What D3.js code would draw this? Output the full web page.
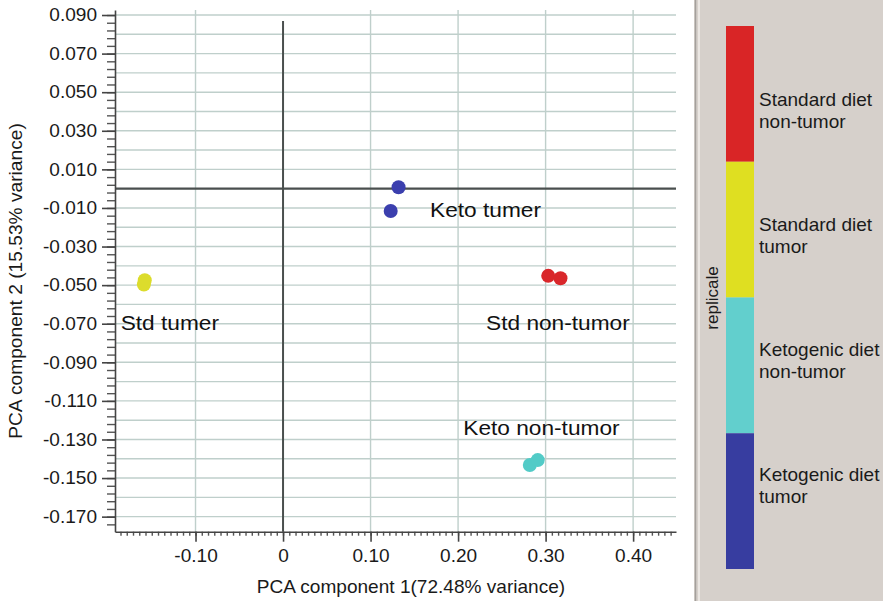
<!DOCTYPE html>
<html>
<head>
<meta charset="utf-8">
<script src="https://cdn.jsdelivr.net/npm/d3@7"></script>
<style>
  body { margin: 0; background: #fff; }
  svg { display: block; font-family: "Liberation Sans", Arial, Helvetica, sans-serif; }
</style>
</head>
<body>
<svg id="chart" width="883" height="601"></svg>
<script>
// PCA scores per group, [component 1, component 2]
const ketoTumor = [[0.132, 0.0007], [0.123, -0.0116]];
const stdNonTumor = [[0.303, -0.0452], [0.317, -0.0464]];
const stdTumor = [[-0.158, -0.0475], [-0.159, -0.0497]];
const ketoNonTumor = [[0.282, -0.1432], [0.291, -0.1407]];

const groups = [ketoTumor, stdNonTumor, stdTumor, ketoNonTumor];
const groupColors = ["#3b3fae", "#d9272b", "#dcdc2c", "#52cbc7"];
const groupNames = ["Keto tumer", "Std non-tumor", "Std tumer", "Keto non-tumor"];
// where each annotation starts, in data units
const groupNameAt = [[0.168, -0.0145], [0.232, -0.0735], [-0.1855, -0.0735], [0.206, -0.1279]];

const xTicks = [-0.10, 0, 0.10, 0.20, 0.30, 0.40];
const xTickLabels = ["-0.10", "0", "0.10", "0.20", "0.30", "0.40"];
const yTicks = [0.09, 0.07, 0.05, 0.03, 0.01, -0.01, -0.03, -0.05, -0.07, -0.09, -0.11, -0.13, -0.15, -0.17];
const yTickLabels = ["0.090", "0.070", "0.050", "0.030", "0.010", "-0.010", "-0.030", "-0.050",
  "-0.070", "-0.090", "-0.110", "-0.130", "-0.150", "-0.170"];
const xGrid = [-0.10, 0.10, 0.20, 0.30, 0.40];
const yGrid = d3.range(-17, 10).filter(i => i !== 0).map(i => i / 100);

const legendNames = [["Standard diet", "non-tumor"], ["Standard diet", "tumor"],
  ["Ketogenic diet", "non-tumor"], ["Ketogenic diet", "tumor"]];
const legendColors = ["#d92526", "#dfdf21", "#62cfcd", "#373da0"];

const svg = d3.select("#chart");
const sx = 1.06; // the source art is a little wide

const x = d3.scaleLinear().domain([-0.192, 0.449]).range([115, 676]);
const y = d3.scaleLinear().domain([0.0926, -0.1778]).range([10, 531.7]);

// grid
svg.append("g").selectAll("line").data(yGrid).join("line")
  .attr("x1", x.range()[0]).attr("x2", x.range()[1])
  .attr("y1", d => y(d)).attr("y2", d => y(d))
  .attr("stroke", "#bfcfcb").attr("stroke-width", 1.4);
svg.append("g").selectAll("line").data(xGrid).join("line")
  .attr("x1", d => x(d)).attr("x2", d => x(d))
  .attr("y1", y.range()[0]).attr("y2", y.range()[1])
  .attr("stroke", "#bfcfcb").attr("stroke-width", 1.4);

// zero lines
svg.append("line")
  .attr("x1", x.range()[0]).attr("x2", x.range()[1])
  .attr("y1", y(0)).attr("y2", y(0))
  .attr("stroke", "#4a4f4e").attr("stroke-width", 2.2);
svg.append("line")
  .attr("x1", x(0)).attr("x2", x(0))
  .attr("y1", y.range()[0] + 11).attr("y2", y.range()[1])
  .attr("stroke", "#4a4f4e").attr("stroke-width", 2);

// minor ticks
const yMinor = d3.range(0, 68).map(i => 0.09 - i * 0.004).filter(v => v > -0.1778);
svg.append("g").attr("transform", `translate(${x.range()[0]},0)`)
  .call(d3.axisLeft(y).tickValues(yMinor).tickSize(8).tickFormat(""))
  .call(g => g.select(".domain").remove())
  .call(g => g.selectAll("line").attr("stroke", "#555").attr("stroke-width", 1.4));
const xMinor = d3.range(Math.ceil(-0.192 * 140), Math.floor(0.449 * 140) + 1).map(i => i / 140);
svg.append("g").attr("transform", `translate(0,${y.range()[1]})`)
  .call(d3.axisBottom(x).tickValues(xMinor).tickSize(4).tickFormat(""))
  .call(g => g.select(".domain").remove())
  .call(g => g.selectAll("line").attr("stroke", "#555").attr("stroke-width", 1.4));

// major axes
svg.append("g").attr("transform", `translate(${x.range()[0]},0)`)
  .call(d3.axisLeft(y).tickValues(yTicks).tickSize(13).tickSizeOuter(0).tickPadding(5)
    .tickFormat((d, i) => yTickLabels[i]))
  .call(g => g.select(".domain").attr("stroke", "#444").attr("stroke-width", 1.6))
  .call(g => g.selectAll("line").attr("stroke", "#444").attr("stroke-width", 1.6))
  .call(g => g.selectAll("text")
    .attr("x", -18 / sx).attr("transform", `scale(${sx},1)`)
    .attr("font-size", 18).attr("font-family", null).attr("fill", "#1a1a1a"));

svg.append("g").attr("transform", `translate(0,${y.range()[1]})`)
  .call(d3.axisBottom(x).tickValues(xTicks).tickSize(10).tickSizeOuter(0).tickPadding(8)
    .tickFormat((d, i) => xTickLabels[i]))
  .call(g => g.select(".domain").attr("stroke", "#444").attr("stroke-width", 1.6))
  .call(g => g.selectAll("line").attr("stroke", "#444").attr("stroke-width", 1.6))
  .call(g => g.selectAll("text").attr("transform", `scale(${sx},1)`)
    .attr("font-size", 18).attr("font-family", null).attr("fill", "#1a1a1a"));

// axis titles
svg.append("text")
  .attr("transform", `translate(411,593) scale(${sx},1)`)
  .attr("text-anchor", "middle").attr("font-size", 18).attr("fill", "#1a1a1a")
  .text("PCA component 1(72.48% variance)");
svg.append("text")
  .attr("transform", "translate(22,281) rotate(-90)")
  .attr("text-anchor", "middle").attr("font-size", 19.2).attr("fill", "#1a1a1a")
  .text("PCA component 2 (15.53% variance)");

// points
groups.forEach((pts, gi) => {
  svg.append("g").selectAll("circle").data(pts).join("circle")
    .attr("cx", d => x(d[0])).attr("cy", d => y(d[1]))
    .attr("r", 7).attr("fill", groupColors[gi]);
});

// group annotations
svg.append("g").selectAll("text").data(groupNames).join("text")
  .attr("transform", (d, i) => `translate(${x(groupNameAt[i][0])},${y(groupNameAt[i][1])}) scale(1.08,1)`)
  .attr("font-size", 21).attr("fill", "#111")
  .text(d => d);

// legend panel
svg.append("rect").attr("x", 694).attr("y", 0).attr("width", 189).attr("height", 601)
  .attr("fill", "#d6d0cb");
svg.append("line").attr("x1", 695.5).attr("x2", 695.5).attr("y1", 0).attr("y2", 601)
  .attr("stroke", "#a4a09c").attr("stroke-width", 1.5);
svg.append("line").attr("x1", 699).attr("x2", 699).attr("y1", 0).attr("y2", 601)
  .attr("stroke", "#ebe7e3").attr("stroke-width", 2);

const barBand = d3.scaleBand().domain(d3.range(legendNames.length)).range([26, 569]);
svg.append("g").selectAll("rect").data(legendColors).join("rect")
  .attr("x", 726).attr("width", 28)
  .attr("y", (d, i) => barBand(i)).attr("height", barBand.bandwidth())
  .attr("fill", d => d);

const labelBand = d3.scaleBand().domain(d3.range(legendNames.length)).range([48, 548]);
const lg = svg.append("g").selectAll("text").data(legendNames).join("text")
  .attr("x", 759)
  .attr("y", (d, i) => labelBand(i) + labelBand.bandwidth() / 2 - 5)
  .attr("font-size", 19).attr("fill", "#1a1a1a");
lg.selectAll("tspan").data(d => d).join("tspan")
  .attr("x", 759).attr("dy", (d, i) => i ? 22 : 0).text(d => d);

svg.append("text")
  .attr("transform", "translate(718,298) rotate(-90)")
  .attr("text-anchor", "middle").attr("font-size", 17).attr("fill", "#1a1a1a")
  .text("replicale");
</script>
</body>
</html>
